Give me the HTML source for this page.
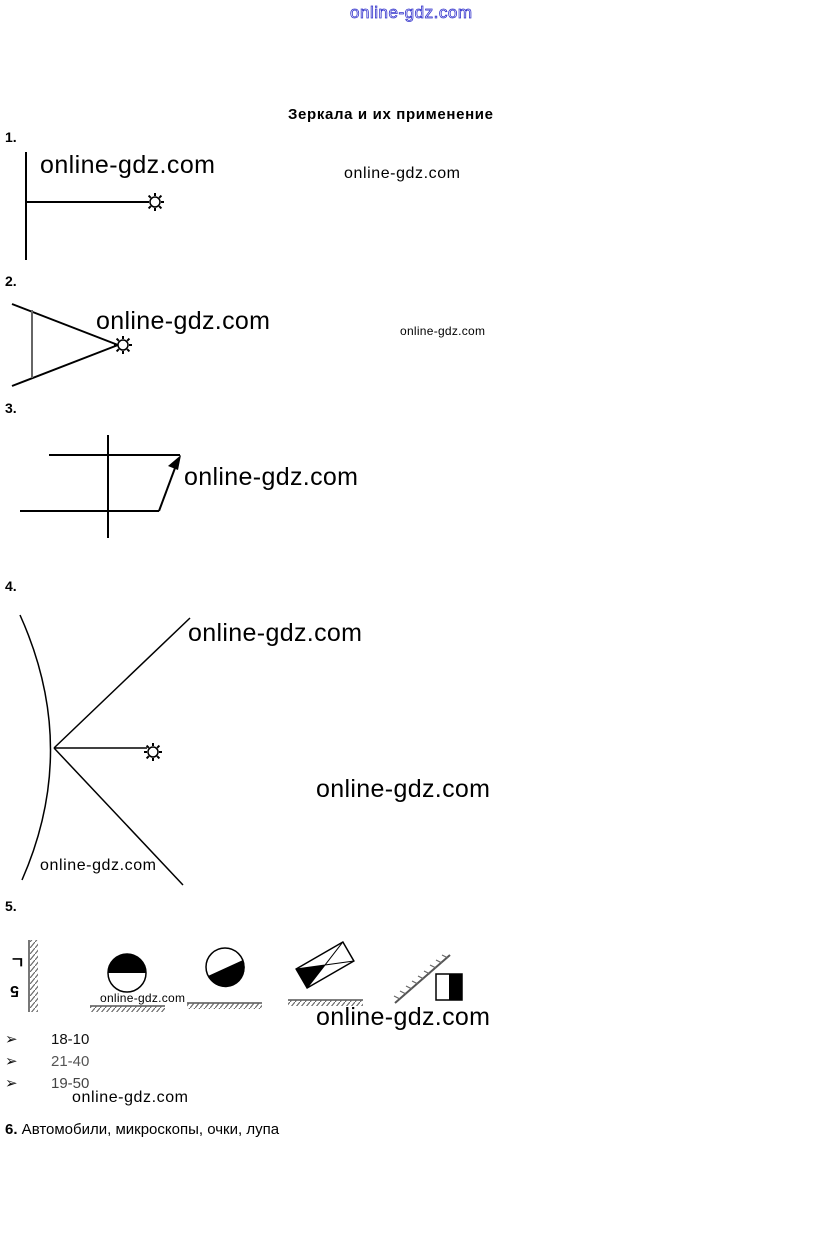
<!DOCTYPE html>
<html><head><meta charset="utf-8"><style>
html,body{margin:0;padding:0;background:#fff;}
svg{display:block}
text{font-family:"Liberation Sans",sans-serif;}
</style></head><body>
<svg width="823" height="1245" viewBox="0 0 823 1245" xmlns="http://www.w3.org/2000/svg">
<defs>
<g id="sun"><circle r="5" fill="#fff" stroke="#000" stroke-width="1.5"/>
<path d="M0,-9L0,-6M0,9L0,6M-9,0L-6,0M9,0L6,0M-6.4,-6.4L-4.2,-4.2M6.4,6.4L4.2,4.2M-6.4,6.4L-4.2,4.2M6.4,-6.4L4.2,-4.2" stroke="#000" stroke-width="2"/></g>
<pattern id="hatch" width="5" height="6" patternUnits="userSpaceOnUse"><path d="M0,6L5,0" stroke="#666" stroke-width="1.2"/></pattern>
</defs>
<text x="350" y="18" font-size="17" fill="#fff" stroke="#33c" stroke-width="0.8" textLength="122">online-gdz.com</text>
<text x="288" y="119" font-size="15" font-weight="bold" textLength="205">Зеркала и их применение</text>
<g font-size="14" font-weight="bold">
<text x="5" y="142">1.</text><text x="5" y="286">2.</text><text x="5" y="413">3.</text><text x="5" y="591">4.</text><text x="5" y="911">5.</text>
</g>
<g stroke="#000" stroke-width="2" fill="none">
<line x1="26" y1="152" x2="26" y2="260"/><line x1="26" y1="202" x2="148" y2="202"/>
<line x1="12" y1="304" x2="118" y2="345"/><line x1="12" y1="386" x2="118" y2="345"/>
<line x1="32" y1="310" x2="32" y2="378" stroke="#666"/>
<line x1="108" y1="435" x2="108" y2="538"/><line x1="49" y1="455" x2="180" y2="455"/>
<line x1="20" y1="511" x2="159" y2="511"/><line x1="159" y1="511" x2="175" y2="468"/>
<path d="M20,615 Q80,748 22,880" stroke-width="1.5"/>
<line x1="54" y1="748" x2="190" y2="618" stroke-width="1.5"/>
<line x1="54" y1="748" x2="147" y2="748" stroke-width="1.5"/>
<line x1="54" y1="748" x2="183" y2="885" stroke-width="1.5"/>
</g>
<polygon points="181,455 168,466 178,470" fill="#000"/>
<use href="#sun" x="155" y="202"/><use href="#sun" x="123" y="345"/><use href="#sun" x="153" y="752"/>
<rect x="30" y="940" width="8" height="72" fill="url(#hatch)"/><line x1="29" y1="940" x2="29" y2="1012" stroke="#777" stroke-width="2"/>
<text x="10" y="968" font-size="16" font-weight="bold">ㄱ</text>
<text x="10" y="998" font-size="16" font-weight="bold" transform="rotate(180 14.5 992)">5</text>
<circle cx="127" cy="973" r="19" fill="#fff" stroke="#000" stroke-width="1.5"/>
<path d="M108,973 A19,19 0 0 1 146,973Z" fill="#000"/>
<line x1="90" y1="1006" x2="165" y2="1006" stroke="#555" stroke-width="1.5"/><rect x="90" y="1006" width="75" height="6" fill="url(#hatch)"/>
<circle cx="225" cy="967" r="19" fill="#fff" stroke="#000" stroke-width="1.5"/>
<path d="M208,976 L243,960 A19,19 0 0 1 208,976Z" fill="#000"/>
<line x1="187" y1="1003" x2="262" y2="1003" stroke="#555" stroke-width="1.5"/><rect x="187" y="1003" width="75" height="6" fill="url(#hatch)"/>
<g transform="rotate(-30 325 965)"><rect x="298" y="954" width="54" height="22" fill="#fff" stroke="#000" stroke-width="1.5"/><path d="M298,954L352,976M298,976L352,954" stroke="#000"/><path d="M298,954L325,965L298,976Z" fill="#000"/></g>
<line x1="288" y1="1000" x2="363" y2="1000" stroke="#555" stroke-width="1.5"/><rect x="288" y="1000" width="75" height="6" fill="url(#hatch)"/>
<line x1="395" y1="1003" x2="450" y2="955" stroke="#555" stroke-width="2"/>
<path d="M400,999l-6,-3M406,994l-6,-3M412,989l-6,-3M418,984l-6,-3M424,979l-6,-3M430,974l-6,-3M436,968l-6,-3M442,963l-6,-3M448,958l-6,-3" stroke="#666" stroke-width="1.2"/>
<rect x="436" y="974" width="26" height="26" fill="#fff" stroke="#000" stroke-width="1.5"/><rect x="449" y="974" width="13" height="26" fill="#000"/>
<g font-size="15" fill="#111"><text x="5" y="1044">➢</text><text x="5" y="1066">➢</text><text x="5" y="1088">➢</text>
<text x="51" y="1044">18-10</text><text x="51" y="1066" fill="#555">21-40</text><text x="51" y="1088" fill="#444">19-50</text></g>
<text x="5" y="1134" font-size="15"><tspan font-weight="bold">6.</tspan> Автомобили, микроскопы, очки,  лупа</text>
<g fill="#000">
<text x="40" y="173" font-size="25" textLength="175">online-gdz.com</text>
<text x="344" y="178" font-size="16" textLength="116">online-gdz.com</text>
<text x="96" y="329" font-size="25" textLength="174">online-gdz.com</text>
<text x="400" y="335" font-size="12" textLength="85">online-gdz.com</text>
<text x="184" y="485" font-size="25" textLength="174">online-gdz.com</text>
<text x="188" y="641" font-size="25" textLength="174">online-gdz.com</text>
<text x="316" y="797" font-size="25" textLength="174">online-gdz.com</text>
<text x="40" y="870" font-size="16" textLength="116">online-gdz.com</text>
<text x="100" y="1002" font-size="12" textLength="85">online-gdz.com</text>
<text x="316" y="1025" font-size="25" textLength="174">online-gdz.com</text>
<text x="72" y="1102" font-size="16" textLength="116">online-gdz.com</text>
</g>
</svg>
</body></html>
